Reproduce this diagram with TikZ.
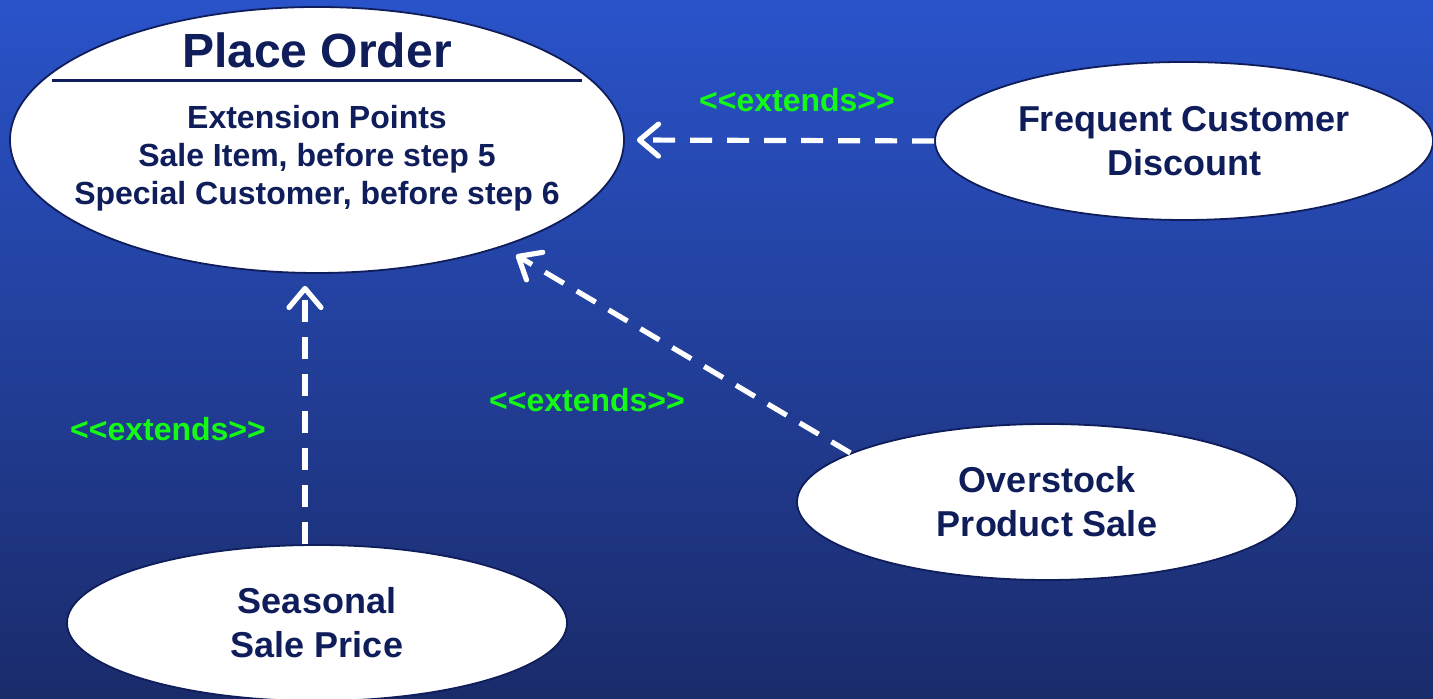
\documentclass[tikz,border=0pt]{standalone}
\usepackage{fontspec}
\setmainfont{Liberation Sans}
\usepackage{tikz}
\usetikzlibrary{arrows.meta,shapes.geometric,shadings}
\definecolor{bgtop}{RGB}{42,83,202}
\definecolor{bgbot}{RGB}{26,43,106}
\definecolor{navy}{RGB}{15,30,90}
\definecolor{extgreen}{RGB}{20,250,20}

\begin{document}
\begin{tikzpicture}[x=0.5pt, y=0.5pt,
		usecase/.style={ellipse, draw=navy, line width=0.9pt, fill=white, inner sep=0pt, text=navy, align=center, font=\bfseries\fontsize{18}{22}\selectfont},
		extarrow/.style={draw=white, line width=2.6pt, dash pattern=on 11pt off 7.5pt, -{Straight Barb[length=9.5pt, width=16pt, round]}},
		extlabel/.style={text=extgreen, inner sep=0pt, font=\bfseries\fontsize{16}{19}\selectfont}]
				\useasboundingbox (0,0) rectangle (1433,699);
				\shade[top color=bgtop, bottom color=bgbot] (0,0) rectangle (1433,699);
				\node[usecase, minimum width=307pt, minimum height=133pt] (placeorder) at (317,559) {};
				\node[anchor=base, inner sep=0pt, text=navy, font=\bfseries\fontsize{24}{28}\selectfont] (potitle) at (317,631) {Place Order};
				\draw[navy, line width=1.5pt] (52,618) -- (582,618);
				\node[anchor=north, inner sep=0pt, text=navy, align=center, font=\bfseries\fontsize{16}{19}\selectfont] (popoints) at (317,594.5) {Extension Points\\Sale Item, before step 5\\Special Customer, before step 6};
				\node[usecase, minimum width=249pt, minimum height=79pt] (frequent) at (1184,558) {Frequent Customer\\Discount};
				\node[usecase, minimum width=250pt, minimum height=78pt] (overstock) at (1047,197) {Overstock\\Product Sale};
				\node[usecase, minimum width=250pt, minimum height=78pt] (seasonal) at (317,76) {Seasonal\\Sale Price};
				\draw[extarrow, shorten >=6pt] (frequent.west) -- (placeorder.east);
				\draw[extarrow, shorten >=8pt] (overstock.166) -- (placeorder.330);
				\draw[extarrow, shorten >=6pt] ([xshift=-6pt]seasonal.north) -- ([xshift=-6pt]placeorder.south);
				\node[extlabel] (extfrequent) at (797,599) {<{}<extends>{}>};
				\node[extlabel] (extoverstock) at (587,299) {<{}<extends>{}>};
				\node[extlabel] (extseasonal) at (168,270) {<{}<extends>{}>};
			\end{tikzpicture}
\end{document}
